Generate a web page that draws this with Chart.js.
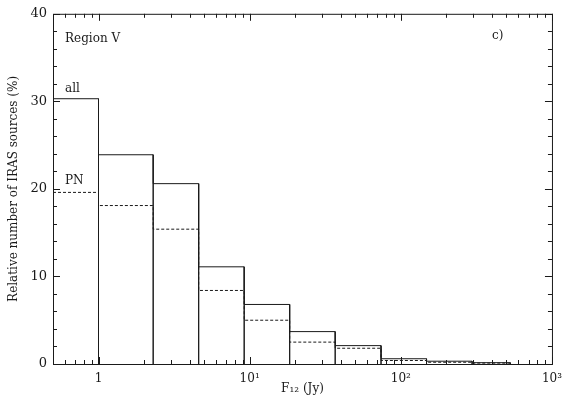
<!DOCTYPE html>
<html>
<head>
<meta charset="utf-8">
<script src="https://cdn.jsdelivr.net/npm/chart.js@4.4.1/dist/chart.umd.min.js"></script>
<style>
  html, body { margin: 0; padding: 0; background: #fff; }
  #wrap { width: 570px; height: 398px; }
</style>
</head>
<body>
<div id="wrap"><canvas id="c" width="570" height="398"></canvas></div>
<script>
// ---- data ----
const binEdges = [0.5, 1, 2.3, 4.6, 9.2, 18.4, 36.8, 74, 148, 296, 530];
const allPct   = [30.3, 23.9, 20.6, 11.1, 6.8, 3.7, 2.1, 0.6, 0.32, 0.15];
const pnPct    = [19.6, 18.1, 15.4, 8.4, 5.0, 2.5, 1.8, 0.4, 0.2, 0.1];
const xTickValues = [1, 10, 100, 1000];
const xTickLabels = ['1', '10\u00B9', '10\u00B2', '10\u00B3'];
const xMinorValues = [0.6, 0.7, 0.8, 0.9, 2, 3, 4, 5, 6, 7, 8, 9, 20, 30, 40, 50, 60, 70, 80, 90, 200, 300, 400, 500, 600, 700, 800, 900];
const yTickValues = [0, 10, 20, 30, 40];
const yMinorValues = [2, 4, 6, 8, 12, 14, 16, 18, 22, 24, 26, 28, 32, 34, 36, 38];
const seriesNames = ['all', 'PN'];
const panelTitle = 'Region V';
const panelTag = 'c)';

// ---- build histogram outline points from the arrays ----
const allPts = [];
for (let i = 0; i < allPct.length; i++) {
  allPts.push({x: binEdges[i], y: 0});
  allPts.push({x: binEdges[i], y: allPct[i]});
  allPts.push({x: binEdges[i + 1], y: allPct[i]});
  allPts.push({x: binEdges[i + 1], y: 0});
}
const pnPts = pnPct.map((v, i) => ({x: binEdges[i], y: v}));
pnPts.push({x: binEdges[pnPct.length], y: pnPct[pnPct.length - 1]});

const FONT = "'DejaVu Serif', 'Liberation Serif', serif";
const INK = '#1a1a1a';

const framePlugin = {
  id: 'frame',
  afterDraw(chart) {
    const {ctx, chartArea: a, scales: {x, y}} = chart;
    ctx.save();
    ctx.strokeStyle = INK;
    ctx.lineWidth = 1;
    ctx.strokeRect(a.left + 0.5, a.top + 0.5, a.right - a.left, a.bottom - a.top);
    ctx.beginPath();
    const hx = (v, len) => {
      const px = Math.round(x.getPixelForValue(v)) + 0.5;
      ctx.moveTo(px, a.bottom); ctx.lineTo(px, a.bottom - len);
      ctx.moveTo(px, a.top); ctx.lineTo(px, a.top + len);
    };
    const hy = (v, len) => {
      const py = Math.round(y.getPixelForValue(v)) + 0.5;
      ctx.moveTo(a.left, py); ctx.lineTo(a.left + len, py);
      ctx.moveTo(a.right, py); ctx.lineTo(a.right - len, py);
    };
    xTickValues.forEach(v => hx(v, 7));
    xMinorValues.forEach(v => hx(v, 4));
    yTickValues.forEach(v => hy(v, 7));
    yMinorValues.forEach(v => hy(v, 4));
    ctx.stroke();

    ctx.fillStyle = INK;
    ctx.font = "12px " + FONT;
    ctx.textBaseline = 'alphabetic';
    ctx.textAlign = 'left';
    ctx.fillText(panelTitle, a.left + 12, a.top + 28);
    ctx.fillText(panelTag, a.right - 60, a.top + 25);
    ctx.fillText(seriesNames[0], a.left + 12, y.getPixelForValue(allPct[0]) - 7);
    ctx.fillText(seriesNames[1], a.left + 12, y.getPixelForValue(pnPct[0]) - 8);
    ctx.restore();
  }
};

new Chart(document.getElementById('c'), {
  type: 'line',
  data: {
    datasets: [
      {
        label: seriesNames[0],
        data: allPts,
        borderColor: INK,
        borderWidth: 1,
        pointRadius: 0,
        fill: false,
        tension: 0
      },
      {
        label: seriesNames[1],
        data: pnPts,
        borderColor: INK,
        borderWidth: 1,
        borderDash: [3, 2],
        pointRadius: 0,
        fill: false,
        stepped: 'before'
      }
    ]
  },
  options: {
    responsive: false,
    animation: false,
    devicePixelRatio: 1,
    layout: { padding: { left: 0, right: 17, top: 10, bottom: 0 } },
    plugins: { legend: { display: false }, tooltip: { enabled: false } },
    scales: {
      x: {
        type: 'logarithmic',
        min: 0.5,
        max: 1000,
        grid: { display: false, drawTicks: false },
        border: { display: false },
        afterBuildTicks(s) { s.ticks = xTickValues.map(v => ({value: v, major: true})); },
        afterFit(s) { s.height = 34; },
        ticks: {
          autoSkip: false,
          maxRotation: 0,
          padding: 8,
          color: INK,
          font: { family: FONT, size: 12 },
          callback(v) { const i = xTickValues.indexOf(v); return i >= 0 ? xTickLabels[i] : ''; }
        },
        title: {
          display: true,
          text: 'F\u2081\u2082 (Jy)',
          color: INK,
          font: { family: FONT, size: 12 },
          padding: { top: 0, bottom: 2 }
        }
      },
      y: {
        type: 'linear',
        min: 0,
        max: 40,
        grid: { display: false, drawTicks: false },
        border: { display: false },
        afterBuildTicks(s) { s.ticks = yTickValues.map(v => ({value: v})); },
        afterFit(s) { s.width = 53; },
        ticks: {
          padding: 6,
          color: INK,
          font: { family: FONT, size: 13 }
        },
        title: {
          display: true,
          text: 'Relative number of IRAS sources (%)',
          color: INK,
          font: { family: FONT, size: 12 },
          padding: { top: 7, bottom: 0 }
        }
      }
    }
  },
  plugins: [framePlugin]
});
</script>
</body>
</html>
